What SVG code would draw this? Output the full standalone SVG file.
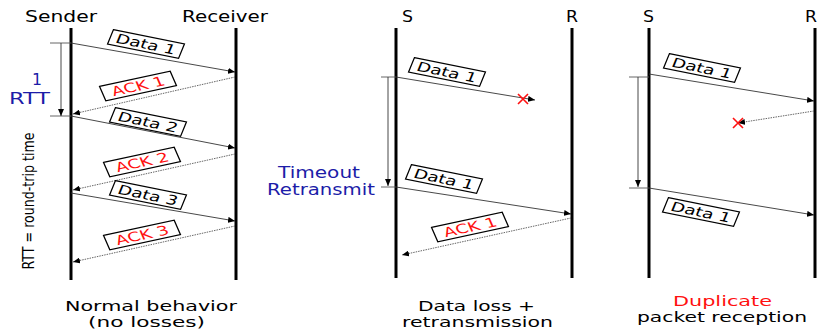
<svg xmlns="http://www.w3.org/2000/svg" width="818" height="330" viewBox="0 0 818 330">
<defs>
<marker id="ah" markerUnits="userSpaceOnUse" markerWidth="7" markerHeight="6" refX="7" refY="3" orient="auto"><path d="M0,0 L7,3 L0,6 z" fill="#000"/></marker>
</defs>
<style>
text{font-family:"DejaVu Sans","Liberation Sans",sans-serif;}
.hd{font-size:15.5px;fill:#000;}
.blue{font-size:15.5px;fill:#1c1ca8;}
.blue2{font-size:15px;fill:#1c1ca8;}
.cap{font-size:13.6px;fill:#000;}
.life{stroke:#000;stroke-width:3;fill:none;}
.msg{stroke:#333;stroke-width:0.9;fill:none;marker-end:url(#ah);}
.ack{stroke:#555;stroke-width:0.9;stroke-dasharray:1.5 1;fill:none;marker-end:url(#ah);}
.tick{stroke:#555;stroke-width:0.9;fill:none;}
.rtt{stroke:#333;stroke-width:0.9;fill:none;marker-end:url(#ah);}
.box{fill:#fff;stroke:#000;stroke-width:1.3;}
.lbl{font-size:13px;fill:#000;text-anchor:middle;}
.xm{stroke:#ff1010;stroke-width:1.6;}
.red{fill:#ff1010;}
</style>
<rect width="818" height="330" fill="#fff"/>

<g id="lifelines">
<line class="life" x1="71" y1="28" x2="71" y2="280"/>
<line class="life" x1="236" y1="28" x2="236" y2="280"/>
<line class="life" x1="396" y1="28" x2="396" y2="278"/>
<line class="life" x1="572" y1="28" x2="572" y2="278"/>
<line class="life" x1="649" y1="28" x2="649" y2="278"/>
<line class="life" x1="815" y1="28" x2="815" y2="278"/>
</g>

<g id="connectors">
<!-- panel 1 -->
<line class="tick" x1="50" y1="43" x2="71" y2="43"/>
<line class="tick" x1="50" y1="116" x2="71" y2="116"/>
<line class="rtt" x1="61" y1="43" x2="61" y2="116"/>
<line class="msg" x1="71" y1="43" x2="235" y2="72"/>
<line class="ack" x1="235" y1="77" x2="73" y2="114"/>
<line class="msg" x1="71" y1="116" x2="235" y2="148"/>
<line class="ack" x1="235" y1="154" x2="73" y2="190"/>
<line class="msg" x1="71" y1="193" x2="235" y2="221"/>
<line class="ack" x1="235" y1="226" x2="73" y2="262"/>
<!-- panel 2 -->
<line class="tick" x1="381" y1="77" x2="396" y2="77"/>
<line class="rtt" x1="388" y1="77" x2="388" y2="186"/>
<line class="tick" x1="381" y1="187" x2="396" y2="187"/>
<line class="msg" x1="396" y1="77" x2="535" y2="100"/>
<line class="msg" x1="396" y1="187" x2="571" y2="214"/>
<line class="ack" x1="571" y1="218" x2="402" y2="255"/>
<!-- panel 3 -->
<line class="tick" x1="629" y1="77" x2="649" y2="77"/>
<line class="rtt" x1="638" y1="77" x2="638" y2="187"/>
<line class="tick" x1="629" y1="188" x2="649" y2="188"/>
<line class="msg" x1="649" y1="74" x2="814" y2="101"/>
<line class="ack" x1="814" y1="111" x2="738" y2="123"/>
<line class="msg" x1="649" y1="188" x2="814" y2="215"/>
</g>

<g id="losses">
<path class="xm" d="M518,94 L528,104 M528,94 L518,104"/>
<path class="xm" d="M733,118 L743,128 M743,118 L733,128"/>
</g>

<g id="headers">
<text class="hd" x="25" y="22" textLength="72" lengthAdjust="spacingAndGlyphs">Sender</text>
<text class="hd" x="182" y="22" textLength="86" lengthAdjust="spacingAndGlyphs">Receiver</text>
<text class="hd" x="402" y="22" textLength="11" lengthAdjust="spacingAndGlyphs">S</text>
<text class="hd" x="566" y="22" textLength="12" lengthAdjust="spacingAndGlyphs">R</text>
<text class="hd" x="643" y="22" textLength="11" lengthAdjust="spacingAndGlyphs">S</text>
<text class="hd" x="805" y="22" textLength="12" lengthAdjust="spacingAndGlyphs">R</text>
</g>

<g id="rtt-label">
<text class="blue" x="32" y="85" textLength="10" lengthAdjust="spacingAndGlyphs">1</text>
<text class="blue" x="9" y="104" textLength="41" lengthAdjust="spacingAndGlyphs">RTT</text>
<text transform="translate(33.5,201) scale(1.4,1) rotate(-90)" font-size="11.3" text-anchor="middle" textLength="137" lengthAdjust="spacingAndGlyphs" fill="#000">RTT = round-trip time</text>
</g>

<g id="timeout-label">
<text class="blue2" x="278" y="178" textLength="82" lengthAdjust="spacingAndGlyphs">Timeout</text>
<text class="blue2" x="267" y="195" textLength="108" lengthAdjust="spacingAndGlyphs">Retransmit</text>
</g>

<g id="p1-data1" transform="translate(146,44) scale(1.42,1) rotate(16)"><rect class="box" vector-effect="non-scaling-stroke" x="-26" y="-7.5" width="52" height="15"/><text class="lbl" y="4.7">Data 1</text></g>
<g id="p1-ack1" transform="translate(138,86) scale(1.42,1) rotate(-17)"><rect class="box" vector-effect="non-scaling-stroke" x="-26" y="-7.5" width="52" height="15"/><text class="lbl red" y="4.7">ACK 1</text></g>
<g id="p1-data2" transform="translate(148,122) scale(1.42,1) rotate(16)"><rect class="box" vector-effect="non-scaling-stroke" x="-26" y="-7.5" width="52" height="15"/><text class="lbl" y="4.7">Data 2</text></g>
<g id="p1-ack2" transform="translate(142,162) scale(1.42,1) rotate(-17)"><rect class="box" vector-effect="non-scaling-stroke" x="-26" y="-7.5" width="52" height="15"/><text class="lbl red" y="4.7">ACK 2</text></g>
<g id="p1-data3" transform="translate(148,195) scale(1.42,1) rotate(16)"><rect class="box" vector-effect="non-scaling-stroke" x="-26" y="-7.5" width="52" height="15"/><text class="lbl" y="4.7">Data 3</text></g>
<g id="p1-ack3" transform="translate(142,235) scale(1.42,1) rotate(-17)"><rect class="box" vector-effect="non-scaling-stroke" x="-26" y="-7.5" width="52" height="15"/><text class="lbl red" y="4.7">ACK 3</text></g>

<g id="p2-data1" transform="translate(447,72) scale(1.42,1) rotate(16)"><rect class="box" vector-effect="non-scaling-stroke" x="-26" y="-7.5" width="52" height="15"/><text class="lbl" y="4.7">Data 1</text></g>
<g id="p2-data1b" transform="translate(444,179) scale(1.42,1) rotate(16)"><rect class="box" vector-effect="non-scaling-stroke" x="-26" y="-7.5" width="52" height="15"/><text class="lbl" y="4.7">Data 1</text></g>
<g id="p2-ack1" transform="translate(470,227) scale(1.42,1) rotate(-17)"><rect class="box" vector-effect="non-scaling-stroke" x="-26" y="-7.5" width="52" height="15"/><text class="lbl red" y="4.7">ACK 1</text></g>

<g id="p3-data1" transform="translate(702,68) scale(1.42,1) rotate(16)"><rect class="box" vector-effect="non-scaling-stroke" x="-26" y="-7.5" width="52" height="15"/><text class="lbl" y="4.7">Data 1</text></g>
<g id="p3-data1b" transform="translate(701,212) scale(1.42,1) rotate(16)"><rect class="box" vector-effect="non-scaling-stroke" x="-26" y="-7.5" width="52" height="15"/><text class="lbl" y="4.7">Data 1</text></g>

<g id="captions">
<text class="cap" x="65" y="311" textLength="172" lengthAdjust="spacingAndGlyphs">Normal behavior</text>
<text class="cap" x="88" y="327" textLength="117" lengthAdjust="spacingAndGlyphs">(no losses)</text>
<text class="cap" x="418" y="311" textLength="117" lengthAdjust="spacingAndGlyphs">Data loss +</text>
<text class="cap" x="402" y="327" textLength="151" lengthAdjust="spacingAndGlyphs">retransmission</text>
<text class="cap red" x="673" y="306" textLength="99" lengthAdjust="spacingAndGlyphs">Duplicate</text>
<text class="cap" x="637" y="322" textLength="170" lengthAdjust="spacingAndGlyphs">packet reception</text>
</g>
</svg>
